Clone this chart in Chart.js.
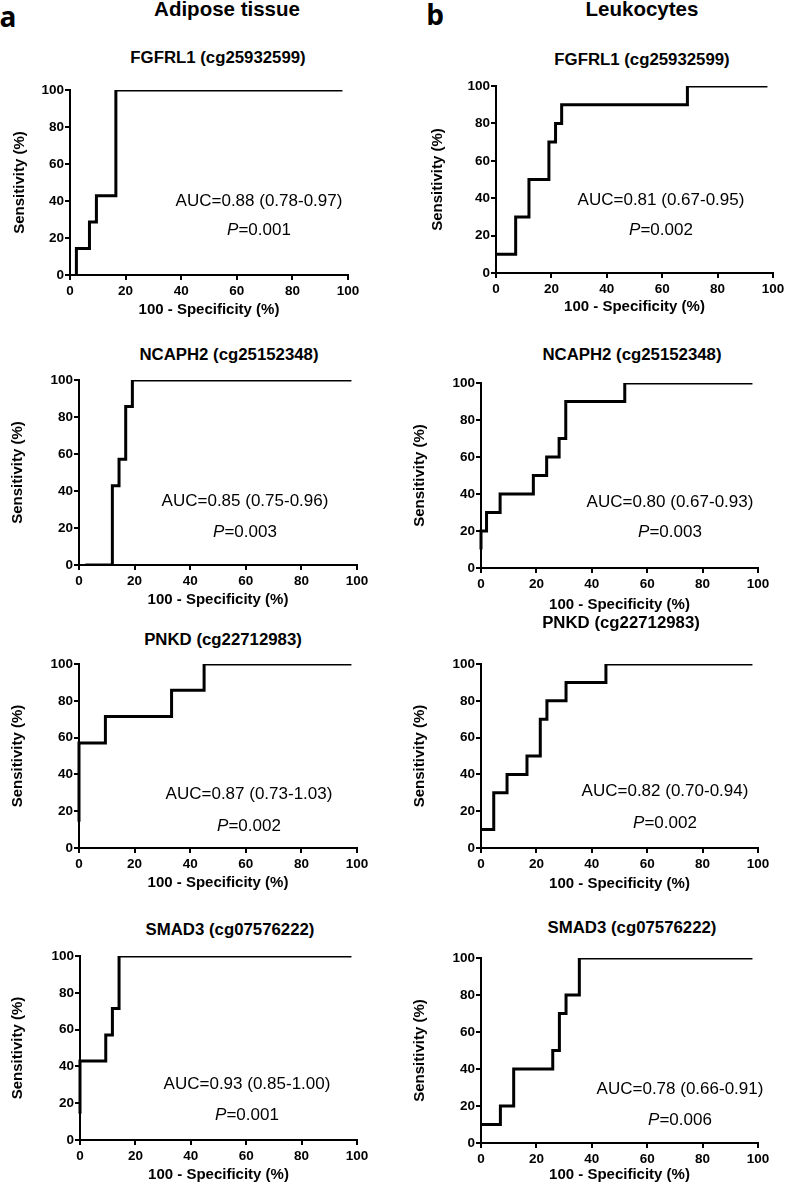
<!DOCTYPE html>
<html>
<head>
<meta charset="utf-8">
<script src="https://cdn.jsdelivr.net/npm/chart.js@4"></script>
<style>
  body { margin: 0; background: #fff; }
  #page { position: relative; width: 787px; height: 1187px; overflow: hidden; font-family: "Liberation Sans", Arial, sans-serif; color: #000; }
  canvas { position: absolute; }
  .txt { position: absolute; transform: translate(-50%, -50%); line-height: 1; white-space: nowrap; }
  .head { font-weight: bold; font-size: 20.5px; }
  .letter { font-weight: bold; font-size: 28px; font-family: "Open Sans", "Liberation Sans", sans-serif; }
  .ptitle { font-weight: bold; font-size: 16.8px; }
  .ann { font-size: 17px; }
</style>
</head>
<body>
<div id="page"></div>
<script>
// tick labels
const xTicks = [0, 20, 40, 60, 80, 100];
const yTicks = [0, 20, 40, 60, 80, 100];

// panel titles / stats
const genes = ['FGFRL1 (cg25932599)', 'NCAPH2 (cg25152348)', 'PNKD (cg22712983)', 'SMAD3 (cg07576222)'];
const adiposeAUC = ['AUC=0.88 (0.78-0.97)', 'AUC=0.85 (0.75-0.96)', 'AUC=0.87 (0.73-1.03)', 'AUC=0.93 (0.85-1.00)'];
const adiposeP = ['0.001', '0.003', '0.002', '0.001'];
const leukoAUC = ['AUC=0.81 (0.67-0.95)', 'AUC=0.80 (0.67-0.93)', 'AUC=0.82 (0.70-0.94)', 'AUC=0.78 (0.66-0.91)'];
const leukoP = ['0.002', '0.003', '0.002', '0.006'];

// ROC points: 100 - specificity (x) and sensitivity (y)
const fgfrl1AdiposeX = [2.3, 2.3, 7.0, 9.5, 16.5, 98];
const fgfrl1AdiposeY = [0, 14.3, 28.6, 42.9, 100, 100];
const ncaph2AdiposeX = [2.3, 12.0, 14.4, 16.8, 19.2, 98];
const ncaph2AdiposeY = [0, 42.9, 57.1, 85.7, 100, 100];
const pnkdAdiposeX = [0, 0, 9.5, 33.3, 45.0, 98];
const pnkdAdiposeY = [14.3, 57.1, 71.4, 85.7, 100, 100];
const smad3AdiposeX = [0, 0, 9.3, 11.7, 14.1, 98];
const smad3AdiposeY = [14.3, 42.9, 57.1, 71.4, 100, 100];

const fgfrl1LeukoX = [0, 7.1, 11.9, 19.1, 21.5, 23.7, 69.1, 98];
const fgfrl1LeukoY = [10, 30, 50, 70, 80, 90, 100, 100];
const ncaph2LeukoX = [0, 0, 2.0, 6.9, 18.9, 23.7, 28.2, 30.6, 51.9, 98];
const ncaph2LeukoY = [10, 20, 30, 40, 50, 60, 70, 90, 100, 100];
const pnkdLeukoX = [0, 4.6, 9.4, 16.6, 21.4, 23.8, 30.7, 45.1, 98];
const pnkdLeukoY = [10, 30, 40, 50, 70, 80, 90, 100, 100];
const smad3LeukoX = [0, 7.0, 11.8, 25.9, 28.3, 30.7, 35.5, 98];
const smad3LeukoY = [10, 20, 40, 50, 70, 80, 100, 100];

// page layout of each panel (pixels)
const panels = [
  {xs: fgfrl1AdiposeX, ys: fgfrl1AdiposeY, title: genes[0], auc: adiposeAUC[0], p: adiposeP[0],
   l: 70, r: 348, t: 90, b: 275, yt: 20, gap: 35, tx: 218, ty: 58, ax: 259, ay: 200, py: 229},
  {xs: ncaph2AdiposeX, ys: ncaph2AdiposeY, title: genes[1], auc: adiposeAUC[1], p: adiposeP[1],
   l: 79, r: 357, t: 380, b: 565, yt: 18, gap: 35, tx: 229, ty: 355, ax: 245, ay: 500, py: 531},
  {xs: pnkdAdiposeX, ys: pnkdAdiposeY, title: genes[2], auc: adiposeAUC[2], p: adiposeP[2],
   l: 79, r: 357, t: 664, b: 848, yt: 18, gap: 35, tx: 223, ty: 640, ax: 249, ay: 793, py: 825},
  {xs: smad3AdiposeX, ys: smad3AdiposeY, title: genes[3], auc: adiposeAUC[3], p: adiposeP[3],
   l: 80, r: 357, t: 956, b: 1140, yt: 18, gap: 35, tx: 230, ty: 930, ax: 247, ay: 1083, py: 1114},
  {xs: fgfrl1LeukoX, ys: fgfrl1LeukoY, title: genes[0], auc: leukoAUC[0], p: leukoP[0],
   l: 496, r: 773, t: 86, b: 273, yt: 438, gap: 34, tx: 642, ty: 60, ax: 661, ay: 199, py: 229},
  {xs: ncaph2LeukoX, ys: ncaph2LeukoY, title: genes[1], auc: leukoAUC[1], p: leukoP[1],
   l: 481, r: 758, t: 383, b: 568, yt: 420, gap: 37, tx: 632, ty: 355, ax: 670, ay: 501, py: 531},
  {xs: pnkdLeukoX, ys: pnkdLeukoY, title: genes[2], auc: leukoAUC[2], p: leukoP[2],
   l: 481, r: 758, t: 664, b: 848, yt: 420, gap: 36, tx: 621, ty: 623, ax: 665, ay: 790, py: 822},
  {xs: smad3LeukoX, ys: smad3LeukoY, title: genes[3], auc: leukoAUC[3], p: leukoP[3],
   l: 481, r: 758, t: 958, b: 1143, yt: 420, gap: 32, tx: 632, ty: 928, ax: 680, ay: 1088, py: 1119}
];

const page = document.getElementById('page');

function addText(cls, html, x, y) {
  const d = document.createElement('div');
  d.className = 'txt ' + cls;
  d.innerHTML = html;
  d.style.left = x + 'px';
  d.style.top = y + 'px';
  page.appendChild(d);
}

addText('letter', 'a', 8, 16);
addText('letter', 'b', 435, 14);
addText('head', 'Adipose tissue', 227, 9);
addText('head', 'Leukocytes', 642, 9);

const tickFont = {family: '"Liberation Sans", Arial', size: 13.5, weight: 'bold'};
const titleFont = {family: '"Liberation Sans", Arial', size: 15, weight: 'bold'};

panels.forEach(pn => {
  const padTop = 15, padRight = 25;
  const left = pn.yt - 11;
  const top = pn.t - padTop;
  const xH = pn.gap + 9;
  const cv = document.createElement('canvas');
  cv.width = pn.r + padRight - left;
  cv.height = pn.b + xH - top;
  cv.style.left = left + 'px';
  cv.style.top = top + 'px';
  page.appendChild(cv);

  const axisGrid = {display: true, drawOnChartArea: false, drawTicks: true, tickLength: 5, color: '#000', lineWidth: 2};
  const axisBorder = {display: true, color: '#000', width: 2};

  new Chart(cv.getContext('2d'), {
    type: 'scatter',
    data: {
      datasets: [{
        data: pn.xs.map((x, i) => ({x: x, y: pn.ys[i]})),
        showLine: true,
        stepped: true,
        borderColor: '#000',
        borderWidth: 3,
        pointRadius: 0,
        clip: {left: 3, right: 3, top: 0, bottom: 0}
      }]
    },
    options: {
      responsive: false,
      animation: false,
      devicePixelRatio: 1,
      layout: {padding: {left: 0, right: padRight, top: padTop, bottom: 0}},
      plugins: {legend: {display: false}, tooltip: {enabled: false}},
      scales: {
        x: {
          type: 'linear', min: 0, max: 100,
          afterBuildTicks: s => { s.ticks = xTicks.map(v => ({value: v})); },
          afterFit: s => { s.height = xH; },
          grid: axisGrid, border: axisBorder,
          ticks: {color: '#000', font: tickFont, padding: 3, maxRotation: 0},
          title: {display: true, text: '100 - Specificity (%)', color: '#000', font: titleFont, padding: 0}
        },
        y: {
          type: 'linear', min: 0, max: 100,
          afterBuildTicks: s => { s.ticks = yTicks.map(v => ({value: v})); },
          afterFit: s => { s.width = pn.l - left; },
          grid: axisGrid, border: axisBorder,
          ticks: {color: '#000', font: tickFont, padding: 1},
          title: {display: true, text: 'Sensitivity (%)', color: '#000', font: titleFont, padding: {top: 2, bottom: 0}}
        }
      }
    }
  });

  addText('ptitle', pn.title, pn.tx, pn.ty);
  addText('ann', pn.auc, pn.ax, pn.ay);
  addText('ann', '<i>P</i>=' + pn.p, pn.ax, pn.py);
});
</script>
</body>
</html>
